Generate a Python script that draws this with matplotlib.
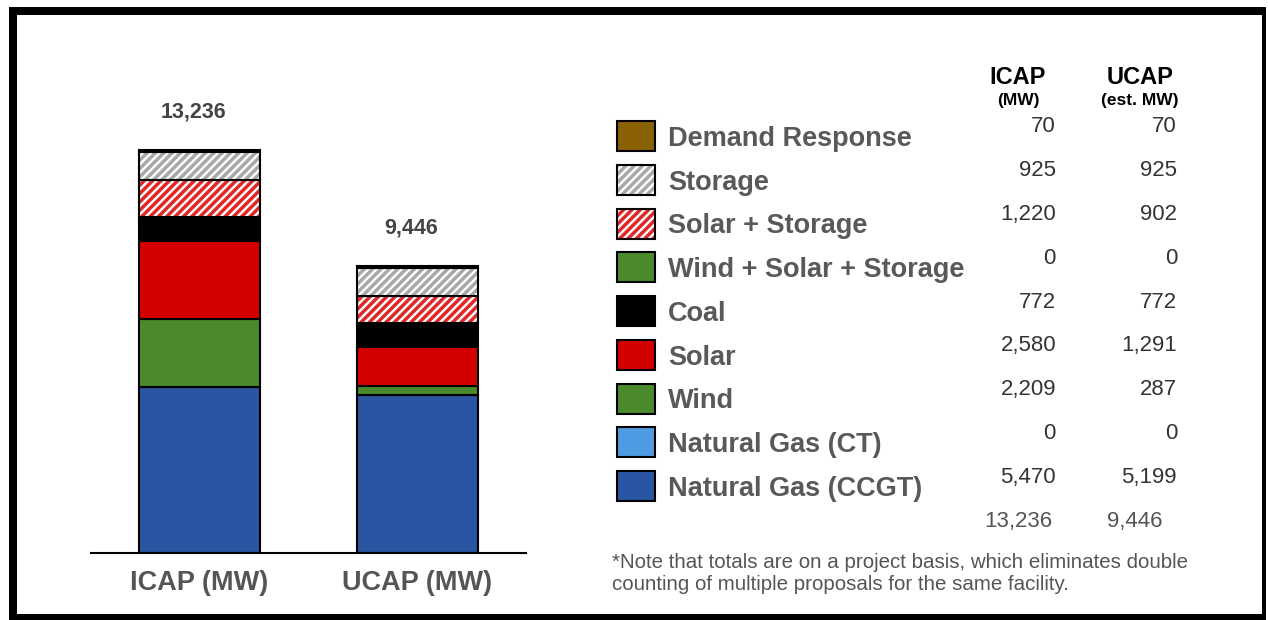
import matplotlib.pyplot as plt
from matplotlib.patches import Rectangle

plt.rcParams['font.family'] = ['Liberation Sans', 'DejaVu Sans']
plt.rcParams['hatch.linewidth'] = 2.5

# data (bottom of the stack first)
bar_labels = ['ICAP (MW)', 'UCAP (MW)']
categories = ['Natural Gas (CCGT)', 'Natural Gas (CT)', 'Wind', 'Solar', 'Coal',
              'Wind + Solar + Storage', 'Solar + Storage', 'Storage', 'Demand Response']
icap = [5470, 0, 2209, 2580, 772, 0, 1220, 925, 70]
ucap = [5199, 0, 287, 1291, 772, 0, 902, 925, 70]
totals = [13236, 9446]
note = ('*Note that totals are on a project basis, which eliminates double\n'
        'counting of multiple proposals for the same facility.')

colors = ['#2a55a2', '#4d9be0', '#4a8a2c', '#d40000', '#000000',
          '#4a8a2c', '#ffffff', '#ffffff', '#8a6206']
hatch_colors = [None, None, None, None, None, None, '#e02828', '#a8a8a8', None]
hatches = [None, None, None, None, None, None, '////', '////', None]

W, H = 1268, 620
fig = plt.figure(figsize=(W / 100, H / 100), dpi=100)


def fx(x):
    return x / W


def fy(y):
    return 1 - y / H


# bar chart
ax = fig.add_axes([fx(91), fy(553), fx(526) - fx(91), (553 - 60) / H])
x = [0, 1]
bottom = [0, 0]
for i, cat in enumerate(categories):
    vals = [icap[i], ucap[i]]
    if hatches[i]:
        ax.bar(x, vals, 0.555, bottom=bottom, color=colors[i], edgecolor=hatch_colors[i],
               hatch=hatches[i], linewidth=0)
        ax.bar(x, vals, 0.555, bottom=bottom, fill=False, edgecolor='black', linewidth=1.5)
    else:
        ax.bar(x, vals, 0.555, bottom=bottom, color=colors[i], edgecolor='black', linewidth=1.5)
    bottom = [bottom[0] + vals[0], bottom[1] + vals[1]]

for xi, top, tot in zip(x, bottom, totals):
    ax.annotate(f'{tot:,}', (xi - 0.03, top), xytext=(0, 27), textcoords='offset points',
                ha='center', va='center', fontsize=15.5, fontweight='bold', color='#444444')

ax.set_xlim(-0.498, 1.498)
ax.set_ylim(0, 16200)
ax.set_yticks([])
ax.set_xticks(x)
ax.set_xticklabels(bar_labels, fontsize=19.5, fontweight='bold', color='#555555')
ax.tick_params(axis='x', length=0, pad=12)
for s in ['top', 'left', 'right']:
    ax.spines[s].set_visible(False)
ax.spines['bottom'].set_linewidth(1.5)

# legend table
fig.text(fx(1018), fy(78), 'ICAP', ha='center', va='center', fontsize=17, fontweight='bold')
fig.text(fx(1018), fy(101), '(MW)', ha='center', va='center', fontsize=12.5, fontweight='bold')
fig.text(fx(1140), fy(78), 'UCAP', ha='center', va='center', fontsize=17, fontweight='bold')
fig.text(fx(1140), fy(101), '(est. MW)', ha='center', va='center', fontsize=12.5, fontweight='bold')

for row, i in enumerate(reversed(range(len(categories)))):
    yc = 136 + row * 43.75
    if hatches[i]:
        fig.add_artist(Rectangle((fx(617), fy(yc + 15)), fx(38), 30 / H, transform=fig.transFigure,
                                 facecolor=colors[i], edgecolor=hatch_colors[i], hatch=hatches[i], linewidth=0))
        fig.add_artist(Rectangle((fx(617), fy(yc + 15)), fx(38), 30 / H, transform=fig.transFigure,
                                 fill=False, edgecolor='black', linewidth=1.5))
    else:
        fig.add_artist(Rectangle((fx(617), fy(yc + 15)), fx(38), 30 / H, transform=fig.transFigure,
                                 facecolor=colors[i], edgecolor='black', linewidth=1.5))
    fig.text(fx(668), fy(yc + 3), categories[i], ha='left', va='center', fontsize=19.5,
             fontweight='bold', color='#58595b')
    fig.text(fx(1056), fy(yc - 9), f'{icap[i]:,}', ha='right', va='center', fontsize=16, color='#333333')
    fig.text(fx(1177), fy(yc - 9), f'{ucap[i]:,}', ha='right', va='center', fontsize=16, color='#333333')

fig.text(fx(1018), fy(521), f'{totals[0]:,}', ha='center', va='center', fontsize=16, color='#555555')
fig.text(fx(1135), fy(521), f'{totals[1]:,}', ha='center', va='center', fontsize=16, color='#555555')
fig.text(fx(612), fy(573), note, ha='left', va='center', fontsize=14.8, color='#555555', linespacing=1.2)

# black frame
for (x0, y0, w, h) in [(9, 7, 1257, 8), (9, 7, 8, 613), (1262, 7, 4, 613), (9, 614, 1257, 6)]:
    fig.add_artist(Rectangle((fx(x0), fy(y0 + h)), fx(w), h / H, transform=fig.transFigure,
                             facecolor='black', edgecolor='none'))

plt.savefig('out.png', dpi=100)
